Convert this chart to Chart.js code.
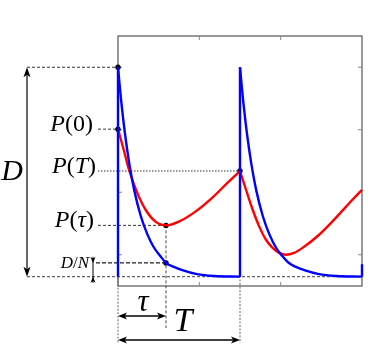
<!DOCTYPE html>
<html>
<head>
<meta charset="utf-8">
<script src="https://cdn.jsdelivr.net/npm/chart.js@4.4.1/dist/chart.umd.min.js"></script>
<style>
  html, body { margin: 0; padding: 0; background: #fff; }
  #wrap { width: 382px; height: 349px; }
</style>
</head>
<body>
<div id="wrap"><canvas id="c" width="382" height="349"></canvas></div>
<script>
// ticks (only tick marks, no labels)
const xTicks = [1, 2];
const yTicks = [0, 1, 2, 3];

// key times / levels
const tau = 0.59;
const period = 1.5;
const peakLevel = 3.0;
const floorLevel = -0.35;
const p0Level = 2.01;
const pTLevel = 1.34;
const pTauLevel = 0.47;
const dnLevel = -0.13;

// blue: dose curve, one decay per period
const blueT1 = [0, 0.02, 0.04, 0.07, 0.10, 0.14, 0.20, 0.28, 0.36, 0.44, 0.52, 0.59, 0.68, 0.80, 0.97, 1.18, 1.50];
const blueV1 = [3.00, 2.72, 2.45, 2.10, 1.80, 1.45, 1.03, 0.62, 0.33, 0.12, -0.02, -0.13, -0.19, -0.25, -0.31, -0.34, -0.35];
const blueT2 = [1.50, 1.52, 1.54, 1.57, 1.60, 1.64, 1.70, 1.78, 1.86, 1.94, 2.02, 2.09, 2.18, 2.30, 2.47, 2.68, 3.00];
const blueV2 = [3.00, 2.72, 2.45, 2.10, 1.80, 1.45, 1.03, 0.62, 0.33, 0.12, -0.02, -0.12, -0.19, -0.25, -0.31, -0.34, -0.35];
// vertical jumps of the blue curve
const jumpT = [0, 1.5, 3.0];
const jumpTop = [3.0, 3.0, -0.15];

// red: P(t)
const redT1 = [0, 0.07, 0.135, 0.237, 0.339, 0.461, 0.592, 0.748, 0.952, 1.157, 1.361, 1.5];
const redV1 = [2.01, 1.68, 1.36, 0.99, 0.72, 0.53, 0.47, 0.53, 0.69, 0.91, 1.17, 1.34];
const redT2 = [1.5, 1.574, 1.656, 1.737, 1.819, 1.901, 1.982, 2.064, 2.166, 2.269, 2.473, 2.678, 2.882, 3.0];
const redV2 = [1.34, 1.04, 0.72, 0.45, 0.24, 0.11, 0.03, 0.00, 0.03, 0.11, 0.32, 0.59, 0.88, 1.04];

// marked points
const dotT = [0, 0, tau, tau, period];
const dotV = [peakLevel, p0Level, pTauLevel, dnLevel, pTLevel];

const pts = (xs, ys) => xs.map((x, i) => ({ x, y: ys[i] }));

const jumpPts = [];
jumpT.forEach((t, i) => {
  jumpPts.push({ x: t, y: floorLevel }, { x: t, y: jumpTop[i] }, { x: t, y: null });
});

const SERIF = '"Liberation Serif", "DejaVu Serif", serif';

function mathText(ctx, parts, size, xRight, yMid) {
  let total = 0;
  const widths = parts.map(p => {
    ctx.font = (p.it ? "italic " : "") + size + "px " + SERIF;
    const w = ctx.measureText(p.t).width;
    total += w;
    return w;
  });
  let x = xRight - total;
  ctx.textBaseline = "middle";
  ctx.textAlign = "left";
  parts.forEach((p, i) => {
    ctx.font = (p.it ? "italic " : "") + size + "px " + SERIF;
    ctx.fillText(p.t, x, yMid);
    x += widths[i];
  });
}

function head(ctx, tx, ty, dx, dy, len, half) {
  const px = -dy, py = dx;
  ctx.beginPath();
  ctx.moveTo(tx, ty);
  ctx.lineTo(tx - dx * len + px * half, ty - dy * len + py * half);
  ctx.lineTo(tx - dx * len * 0.75, ty - dy * len * 0.75);
  ctx.lineTo(tx - dx * len - px * half, ty - dy * len - py * half);
  ctx.closePath();
  ctx.fill();
}

function line(ctx, x1, y1, x2, y2, dash, color, w) {
  ctx.save();
  ctx.setLineDash(dash);
  ctx.strokeStyle = color;
  ctx.lineWidth = w;
  ctx.beginPath();
  ctx.moveTo(x1, y1);
  ctx.lineTo(x2, y2);
  ctx.stroke();
  ctx.restore();
}

const guides = {
  id: "guides",
  beforeDatasetsDraw(chart) {
    const { ctx, chartArea: a, scales: { x, y } } = chart;
    const x0 = x.getPixelForValue(0);
    const xTau = x.getPixelForValue(tau);
    const xT = x.getPixelForValue(period);
    const arrowX = a.left - 91;

    // box and inward tick marks
    ctx.save();
    ctx.strokeStyle = "#555";
    ctx.lineWidth = 1.2;
    ctx.strokeRect(a.left, a.top, a.right - a.left, a.bottom - a.top);
    ctx.lineWidth = 1;
    ctx.strokeStyle = "#888";
    ctx.beginPath();
    xTicks.forEach(t => {
      const px = x.getPixelForValue(t);
      ctx.moveTo(px, a.top); ctx.lineTo(px, a.top + 4);
      ctx.moveTo(px, a.bottom); ctx.lineTo(px, a.bottom - 4);
    });
    yTicks.forEach(t => {
      const py = y.getPixelForValue(t);
      ctx.moveTo(a.left, py); ctx.lineTo(a.left + 4, py);
      ctx.moveTo(a.right, py); ctx.lineTo(a.right - 4, py);
    });
    ctx.stroke();
    ctx.restore();

    // horizontal guides
    line(ctx, arrowX, y.getPixelForValue(peakLevel), x0, y.getPixelForValue(peakLevel), [3, 2], "#333", 1);
    line(ctx, a.left - 20, y.getPixelForValue(p0Level), x0, y.getPixelForValue(p0Level), [3, 2], "#333", 1);
    line(ctx, a.left - 20, y.getPixelForValue(pTLevel), xT, y.getPixelForValue(pTLevel), [1.5, 1.5], "#333", 1);
    line(ctx, a.left - 20, y.getPixelForValue(pTauLevel), xTau, y.getPixelForValue(pTauLevel), [3, 2], "#333", 1);
    line(ctx, a.left - 22, y.getPixelForValue(dnLevel), xTau, y.getPixelForValue(dnLevel), [4, 2], "#222", 1.1);
    line(ctx, arrowX, y.getPixelForValue(floorLevel), a.right, y.getPixelForValue(floorLevel), [3, 2], "#666", 1.1);

    // vertical guides
    line(ctx, x0, y.getPixelForValue(peakLevel), x0, a.bottom + 57, [2, 1.5], "#555", 0.9);
    line(ctx, xTau, y.getPixelForValue(pTauLevel), xTau, a.bottom + 42, [3, 2], "#444", 1);
    line(ctx, xT, y.getPixelForValue(pTLevel), xT, a.bottom + 57, [2, 1.5], "#555", 0.9);
  },
  afterDatasetsDraw(chart) {
    const { ctx, chartArea: a, scales: { x, y } } = chart;
    const x0 = x.getPixelForValue(0);
    const xTau = x.getPixelForValue(tau);
    const xT = x.getPixelForValue(period);
    const arrowX = a.left - 91;
    const yPeak = y.getPixelForValue(peakLevel);
    const yFloor = y.getPixelForValue(floorLevel);
    const yDN = y.getPixelForValue(dnLevel);

    ctx.save();
    ctx.fillStyle = "#000";

    // D arrow
    line(ctx, arrowX, yPeak + 6, arrowX, yFloor - 6, [], "#000", 1.2);
    head(ctx, arrowX, yPeak, 0, -1, 10, 3.5);
    head(ctx, arrowX, yFloor, 0, 1, 10, 3.5);

    // D/N small arrow
    const smallX = a.left - 25;
    line(ctx, smallX, yDN - 6, smallX, yFloor + 6, [], "#000", 1);
    head(ctx, smallX, yDN, 0, 1, 6, 2.5);
    head(ctx, smallX, yFloor, 0, -1, 6, 2.5);

    // tau and T arrows
    const yTauArrow = a.bottom + 30;
    const yTArrow = a.bottom + 54;
    line(ctx, x0 + 6, yTauArrow, xTau - 6, yTauArrow, [], "#000", 1.3);
    head(ctx, x0, yTauArrow, -1, 0, 9, 3.5);
    head(ctx, xTau, yTauArrow, 1, 0, 9, 3.5);
    line(ctx, x0 + 6, yTArrow, xT - 6, yTArrow, [], "#000", 1.3);
    head(ctx, x0, yTArrow, -1, 0, 9, 3.5);
    head(ctx, xT, yTArrow, 1, 0, 9, 3.5);

    // labels
    mathText(ctx, [{ t: "D", it: true }], 30, 23, (yPeak + yFloor) / 2);
    mathText(ctx, [{ t: "P", it: true }, { t: "(0)", it: false }], 24, a.left - 25, y.getPixelForValue(p0Level) - 4);
    mathText(ctx, [{ t: "P", it: true }, { t: "(", it: false }, { t: "T", it: true }, { t: ")", it: false }], 24, a.left - 22, y.getPixelForValue(pTLevel) - 4);
    mathText(ctx, [{ t: "P", it: true }, { t: "(", it: false }, { t: "τ", it: true }, { t: ")", it: false }], 24, a.left - 24, y.getPixelForValue(pTauLevel) - 5);
    mathText(ctx, [{ t: "D", it: true }, { t: "/", it: false }, { t: "N", it: true }], 17, a.left - 29, yDN + 1);
    ctx.textAlign = "center";
    ctx.textBaseline = "middle";
    ctx.font = "italic 31px " + SERIF;
    ctx.fillText("τ", (x0 + xTau) / 2 + 1, a.bottom + 17);
    ctx.font = "italic 34px " + SERIF;
    ctx.fillText("T", xTau + 17, a.bottom + 36);
    ctx.restore();
  }
};

const lineStyle = (color) => ({
  borderColor: color,
  backgroundColor: color,
  borderWidth: 2.4,
  pointRadius: 0,
  fill: false,
  cubicInterpolationMode: "monotone",
  clip: 4,
});

new Chart(document.getElementById("c"), {
  type: "line",
  data: {
    datasets: [
      { ...lineStyle("#0000ff"), data: pts(blueT1, blueV1) },
      { ...lineStyle("#0000ff"), data: pts(blueT2, blueV2) },
      { ...lineStyle("#0000ff"), data: jumpPts, cubicInterpolationMode: "default", tension: 0, spanGaps: false },
      { ...lineStyle("#ff0000"), data: pts(redT1, redV1) },
      { ...lineStyle("#ff0000"), data: pts(redT2, redV2) },
      {
        type: "scatter",
        data: pts(dotT, dotV),
        pointRadius: 2.7,
        pointBackgroundColor: "#000",
        pointBorderWidth: 0,
        showLine: false,
        clip: false,
      },
    ],
  },
  options: {
    responsive: false,
    animation: false,
    layout: { padding: { left: 118, top: 36, right: 20, bottom: 63 } },
    plugins: { legend: { display: false }, tooltip: { enabled: false } },
    scales: {
      x: { type: "linear", min: 0, max: 3, display: false },
      y: { type: "linear", min: -0.5, max: 3.5, display: false },
    },
  },
  plugins: [guides],
});
</script>
</body>
</html>
